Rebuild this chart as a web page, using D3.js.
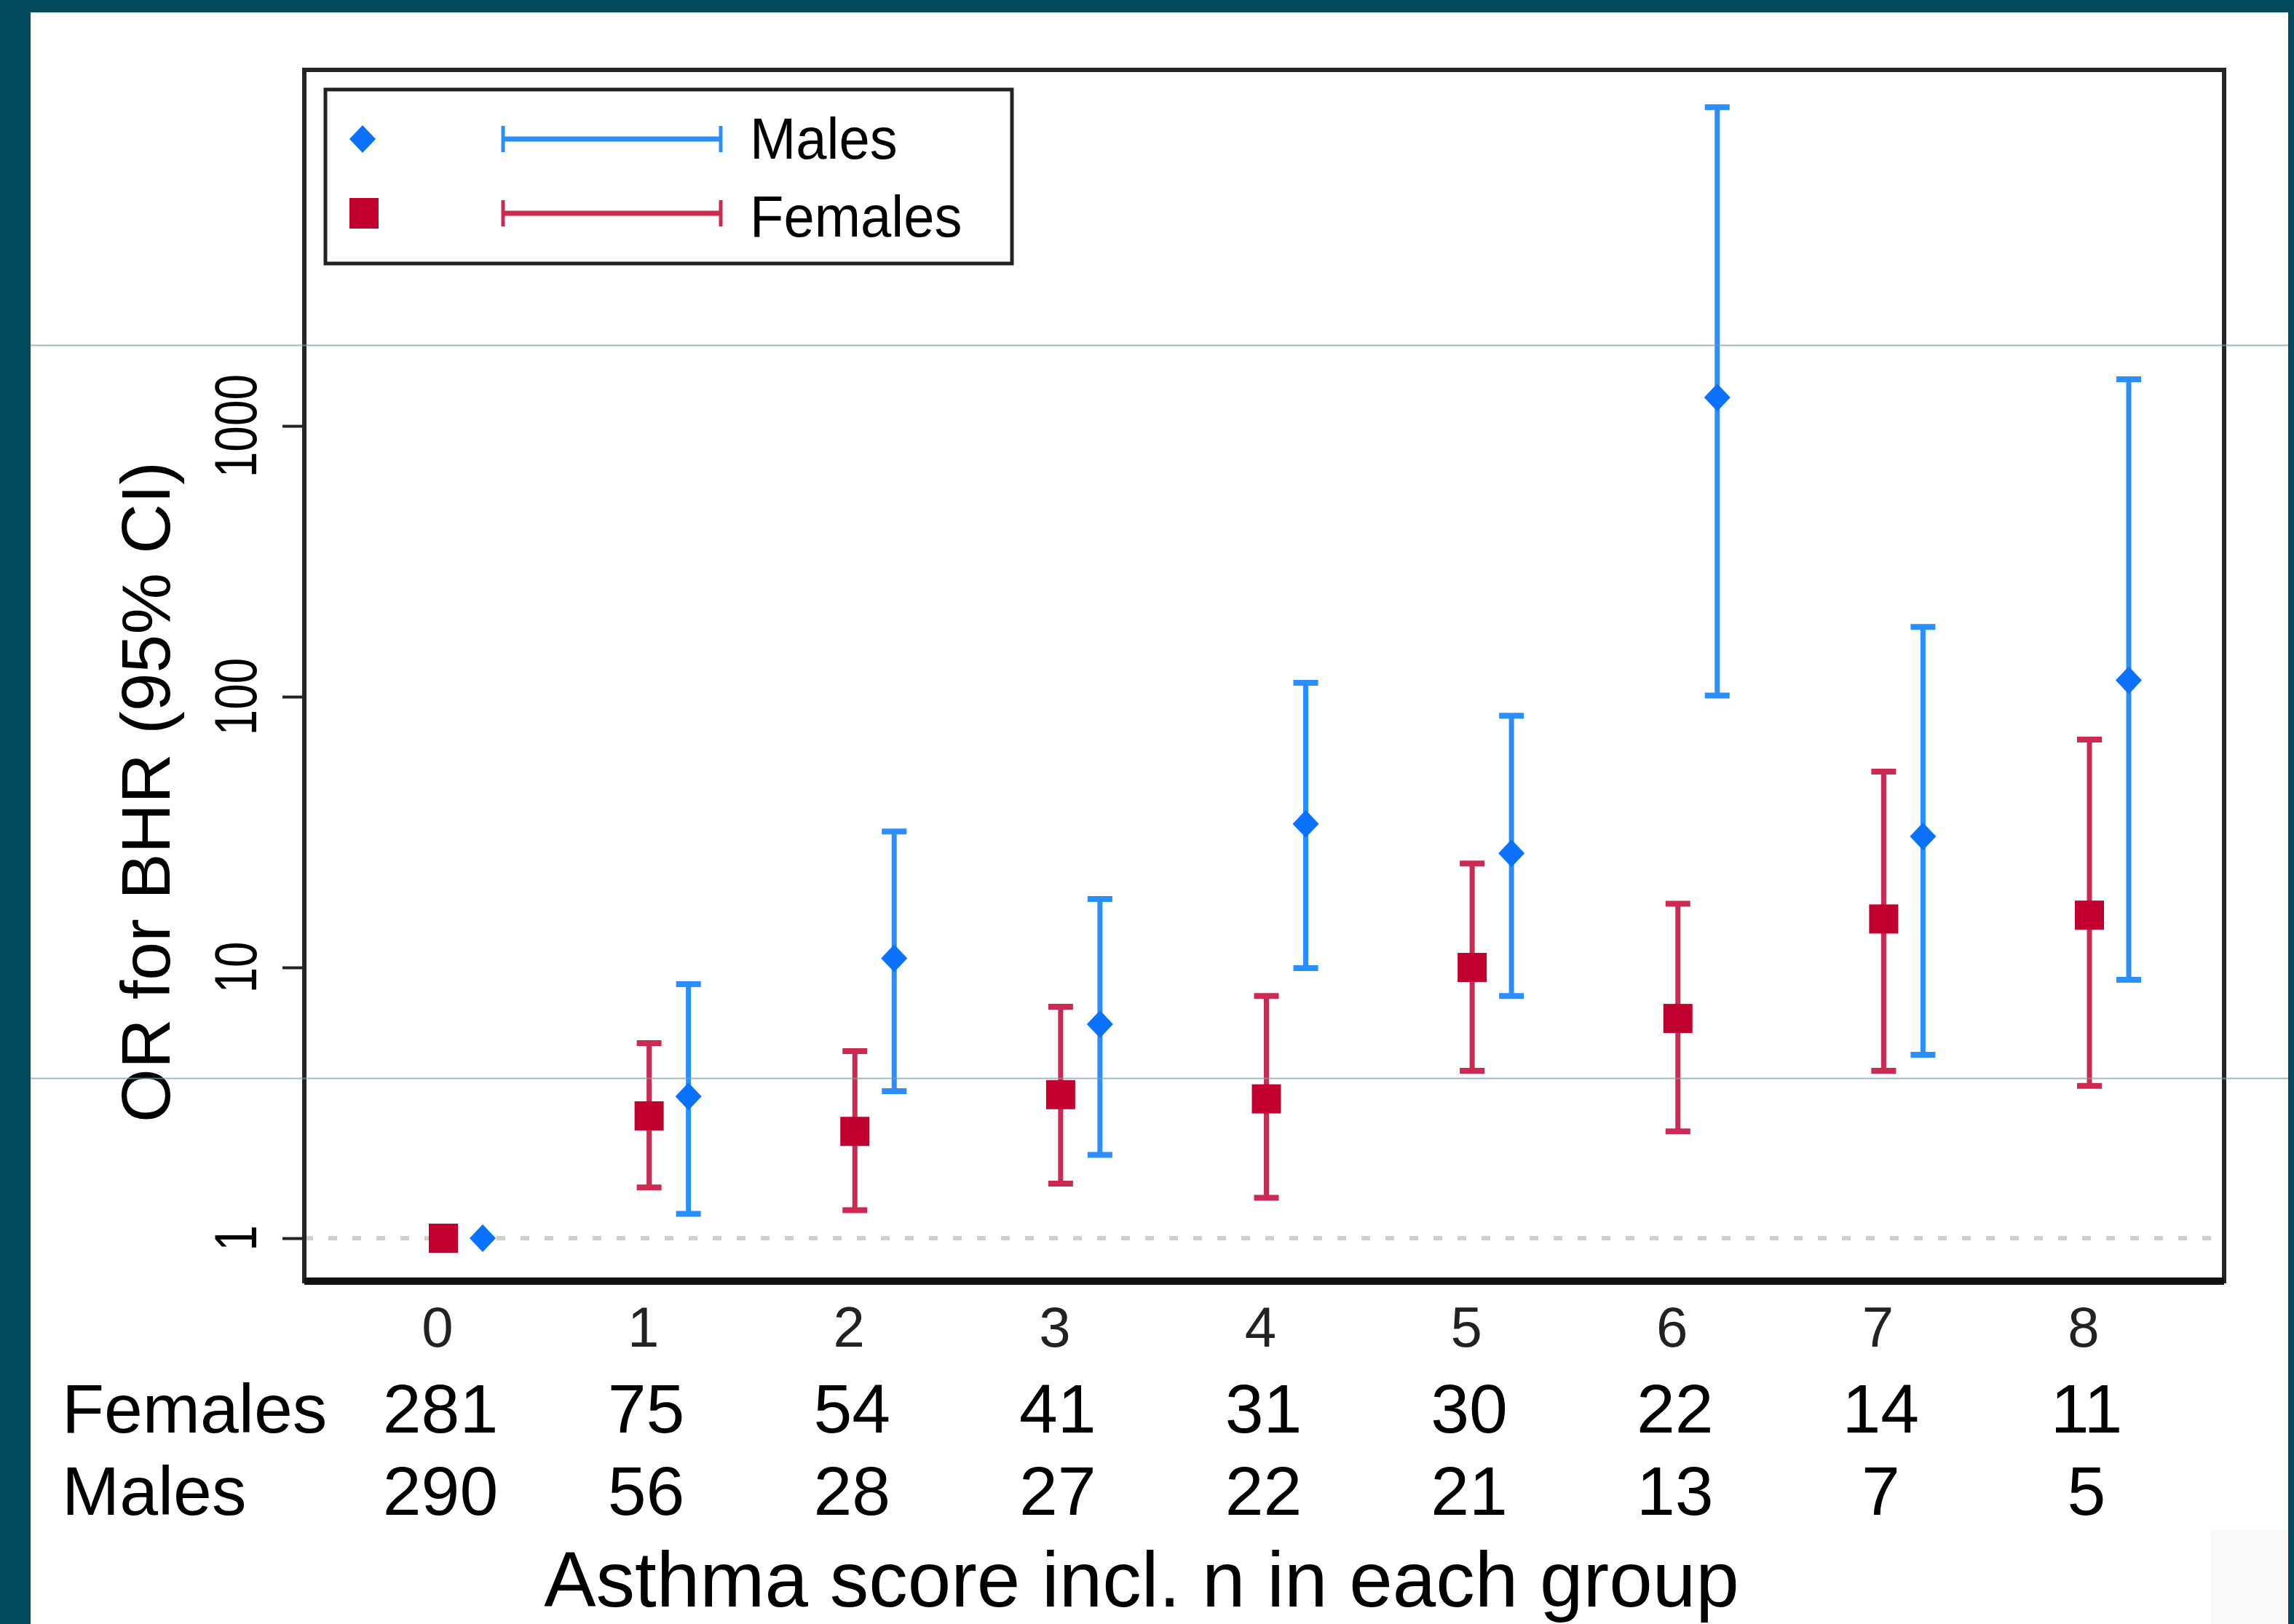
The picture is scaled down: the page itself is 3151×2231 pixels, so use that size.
<!DOCTYPE html>
<html>
<head>
<meta charset="utf-8">
<script src="https://cdn.jsdelivr.net/npm/d3@7"></script>
<style>
  body { margin: 0; background: #fff; }
  text { font-family: "Liberation Sans", Arial, sans-serif; fill: #000; }
</style>
</head>
<body>
<div class="holder"></div>
<script>
// Asthma score groups and the odds ratios (log scale)
var scores = [0, 1, 2, 3, 4, 5, 6, 7, 8]

var femaleOR = [1, 2.83, 2.48, 3.39, 3.27, 10.0, 6.48, 15.1, 15.6]
var femaleLo = [null, 1.54, 1.27, 1.59, 1.41, 4.15, 2.48, 4.15, 3.65]
var femaleHi = [null, 5.25, 4.91, 7.16, 7.85, 24.2, 17.2, 52.9, 69.4]

var maleOR = [1, 3.34, 10.8, 6.17, 33.9, 26.4, 1273, 30.5, 115]
var maleLo = [null, 1.23, 3.49, 2.03, 9.94, 7.85, 101, 4.76, 9.0]
var maleHi = [null, 8.67, 31.8, 17.9, 112.5, 85.1, 15040, 181, 1486]

var nFemales = [281, 75, 54, 41, 31, 30, 22, 14, 11]
var nMales = [290, 56, 28, 27, 22, 21, 13, 7, 5]

var yTicks = [1, 10, 100, 1000]

var width = 3151,
    height = 2231

var blueLine = "#2a8eff", blueMark = "#0a72ff"
var redLine = "#cc2a52", redMark = "#c20030"

var svg = d3.select(".holder").append("svg")
    .attr("width", width)
    .attr("height", height)

// slide background: teal border, white page
svg.append("rect").attr("width", width).attr("height", height).attr("fill", "#03495c")
svg.append("rect").attr("x", 42).attr("y", 17)
    .attr("width", 3143 - 42).attr("height", height - 17).attr("fill", "#fff")
svg.append("rect").attr("x", 3037).attr("y", 2102)
    .attr("width", 106).attr("height", 129).attr("fill", "#f9f9f9")

var plot = {left: 418, right: 3055, top: 96, bottom: 1760}

var x = d3.scaleLinear().domain([0, 8]).range([601, 2862])
var y = d3.scaleLog().domain([0.694, 20650]).range([plot.bottom, plot.top])

// small dodge so the two sexes sit side by side
var femaleShift = 8, maleShift = 62

// reference line at OR = 1
svg.append("line")
    .attr("x1", plot.left).attr("x2", plot.right)
    .attr("y1", y(1)).attr("y2", y(1))
    .attr("stroke", "#cfcfcf").attr("stroke-width", 6)
    .attr("stroke-dasharray", "12,21")

// y axis ticks
svg.append("g")
    .attr("transform", "translate(" + plot.left + ",0)")
    .call(d3.axisLeft(y).tickValues(yTicks).tickSize(30).tickFormat(""))
    .call(g => g.select(".domain").remove())
    .selectAll("line").attr("stroke", "#222").attr("stroke-width", 4)

svg.selectAll(".ytick")
    .data(yTicks).enter()
    .append("text")
    .attr("class", "ytick")
    .attr("transform", d => "translate(352," + y(d) + ") rotate(-90) scale(0.78,1)")
    .attr("text-anchor", "middle")
    .style("font-size", "82px")
    .text(d => d)

svg.append("text")
    .attr("transform", "translate(233,1088) rotate(-90)")
    .attr("text-anchor", "middle")
    .style("font-size", "95px")
    .text("OR for BHR (95% CI)")

function makeRows(lo, hi, or, shift) {
    return scores.map((s, i) => ({cx: x(s) + shift, or: or[i], lo: lo[i], hi: hi[i]}))
}
var females = makeRows(femaleLo, femaleHi, femaleOR, femaleShift)
var males = makeRows(maleLo, maleHi, maleOR, maleShift)

function drawBars(rows, color, cls) {
    var withCI = rows.filter(d => d.lo != null)
    var g = svg.append("g").attr("class", cls)
    g.selectAll(".stem").data(withCI).enter().append("line")
        .attr("x1", d => d.cx).attr("x2", d => d.cx)
        .attr("y1", d => y(d.lo)).attr("y2", d => y(d.hi))
        .attr("stroke", color).attr("stroke-width", 7)
    withCI.forEach(function(d) {
        [d.lo, d.hi].forEach(function(v) {
            g.append("line")
                .attr("x1", d.cx - 17).attr("x2", d.cx + 17)
                .attr("y1", y(v)).attr("y2", y(v))
                .attr("stroke", color).attr("stroke-width", 8)
        })
    })
}
drawBars(females, redLine, "fbars")
drawBars(males, blueLine, "mbars")

svg.selectAll(".fmark").data(females).enter().append("rect")
    .attr("class", "fmark")
    .attr("x", d => d.cx - 20).attr("y", d => y(d.or) - 20)
    .attr("width", 40).attr("height", 40)
    .attr("fill", redMark)

var diamond = "M0,-19L18,0L0,19L-18,0Z"
svg.selectAll(".mmark").data(males).enter().append("path")
    .attr("class", "mmark")
    .attr("d", diamond)
    .attr("transform", d => "translate(" + d.cx + "," + y(d.or) + ")")
    .attr("fill", blueMark)

// frame
svg.append("rect")
    .attr("x", plot.left).attr("y", plot.top)
    .attr("width", plot.right - plot.left).attr("height", plot.bottom - plot.top)
    .attr("fill", "none").attr("stroke", "#262626").attr("stroke-width", 6)
svg.append("line")
    .attr("x1", plot.left).attr("x2", plot.right)
    .attr("y1", plot.bottom).attr("y2", plot.bottom)
    .attr("stroke", "#111").attr("stroke-width", 10)

// legend
var legend = svg.append("g")
legend.append("rect")
    .attr("x", 447).attr("y", 123).attr("width", 943).attr("height", 239)
    .attr("fill", "#fff").attr("stroke", "#222").attr("stroke-width", 5)
var legendItems = [
    {label: "Males", line: blueLine, mark: blueMark, cy: 191, base: 218},
    {label: "Females", line: redLine, mark: redMark, cy: 293, base: 325}
]
legendItems.forEach(function(it, i) {
    if (i == 0) {
        legend.append("path").attr("d", diamond)
            .attr("transform", "translate(498," + it.cy + ")").attr("fill", it.mark)
    } else {
        legend.append("rect").attr("x", 480).attr("y", it.cy - 21)
            .attr("width", 40).attr("height", 42).attr("fill", it.mark)
    }
    legend.append("line").attr("x1", 691).attr("x2", 990)
        .attr("y1", it.cy).attr("y2", it.cy)
        .attr("stroke", it.line).attr("stroke-width", 7)
    ;[691, 990].forEach(function(cx) {
        legend.append("line").attr("x1", cx).attr("x2", cx)
            .attr("y1", it.cy - 18).attr("y2", it.cy + 18)
            .attr("stroke", it.line).attr("stroke-width", 5)
    })
    legend.append("text")
        .attr("transform", "translate(1030," + it.base + ") scale(0.95,1)")
        .style("font-size", "80px")
        .text(it.label)
})

// x tick labels
svg.selectAll(".xtick").data(scores).enter().append("text")
    .attr("class", "xtick")
    .attr("x", d => x(d)).attr("y", 1850)
    .attr("text-anchor", "middle")
    .style("font-size", "78px")
    .style("fill", "#222")
    .text(d => d)

// n per group table
var rows = [{label: "Females", n: nFemales, base: 1968}, {label: "Males", n: nMales, base: 2081}]
rows.forEach(function(r) {
    svg.append("text").attr("x", 85).attr("y", r.base)
        .style("font-size", "95px").text(r.label)
    svg.selectAll(".n" + r.label).data(r.n).enter().append("text")
        .attr("x", (d, i) => x(scores[i]) + 4).attr("y", r.base)
        .attr("text-anchor", "middle")
        .style("font-size", "95px")
        .text(d => d)
})

svg.append("text")
    .attr("x", 1568).attr("y", 2207)
    .attr("text-anchor", "middle")
    .style("font-size", "107px")
    .text("Asthma score incl. n in each group")

// faint slide guide lines
;[474.5, 1481.5].forEach(function(gy) {
    svg.append("line").attr("x1", 42).attr("x2", 3143)
        .attr("y1", gy).attr("y2", gy)
        .attr("stroke", "#7a9eab").attr("stroke-width", 2).attr("opacity", 0.7)
})
</script>
</body>
</html>
